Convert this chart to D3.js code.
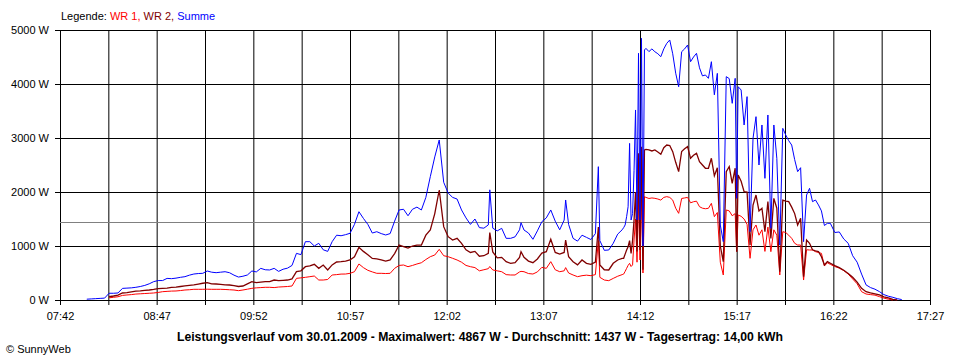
<!DOCTYPE html>
<html><head><meta charset="utf-8">
<script src="https://cdn.jsdelivr.net/npm/d3@7"></script>
<style>
body{margin:0;background:#fff;}
svg{display:block;font-family:"Liberation Sans",Arial,sans-serif;}
</style></head><body>
<svg id="c" width="960" height="360"></svg>
<script>
const times = [
"08:00","08:03","08:06","08:09","08:12","08:15","08:18","08:21","08:24","08:27",
"08:30","08:33","08:36","08:39","08:42","08:45","08:48","08:51","08:54","08:57",
"09:00","09:03","09:06","09:09","09:12","09:15","09:18","09:21","09:24","09:27",
"09:30","09:33","09:36","09:39","09:42","09:45","09:48","09:51","09:54","09:57",
"10:00","10:03","10:06","10:09","10:12","10:15","10:18","10:21","10:24","10:27",
"10:30","10:33","10:36","10:39","10:42","10:45","10:48","10:51","10:54","10:57",
"11:00","11:03","11:06","11:09","11:12","11:15","11:18","11:21","11:24","11:27",
"11:30","11:33","11:36","11:39","11:42","11:45","11:48","11:51","11:54","11:57",
"12:00","12:03","12:06","12:09","12:12","12:15","12:18","12:21","12:24","12:27",
"12:30","12:31","12:33","12:36","12:39","12:42","12:45","12:48","12:51","12:52",
"12:54","12:57","13:00","13:03","13:06","13:09","13:12","13:15","13:18","13:21",
"13:22","13:24","13:27","13:30","13:33","13:36","13:39","13:42","13:44","13:45",
"13:48","13:51","13:54","13:57","14:00","14:01","14:02","14:03","14:04","14:05",
"14:06","14:07","14:08","14:09","14:10","14:11","14:12","14:13","14:14","14:15",
"14:16","14:18","14:20","14:22","14:24","14:26","14:28","14:30","14:32","14:34",
"14:36","14:38","14:40","14:42","14:44","14:46","14:48","14:50","14:52","14:54",
"14:56","14:58","15:00","15:02","15:04","15:06","15:08","15:10","15:12","15:14",
"15:16","15:17","15:18","15:20","15:22","15:24","15:26","15:28","15:30","15:32",
"15:34","15:36","15:38","15:40","15:42","15:44","15:46","15:48","15:50","15:52",
"15:54","15:56","15:58","16:00","16:02","16:04","16:06","16:08","16:10","16:12",
"16:14","16:16","16:18","16:20","16:23","16:26","16:29","16:32","16:35","16:38",
"16:41","16:44","16:47","16:50","16:53","16:56","16:59","17:02","17:05","17:08"];

const summe = [
15,20,25,30,35,125,125,130,215,220,
225,235,250,270,300,340,360,360,400,395,
405,420,432,460,481,490,494,537,515,506,
515,524,505,460,425,440,463,537,520,586,
560,556,586,530,570,590,640,864,840,1080,
1080,1000,1050,930,900,1080,1200,1190,1210,1235,
1400,1635,1512,1400,1240,1265,1230,1204,1230,1460,
1667,1680,1560,1680,1720,1667,1900,2284,2650,2963,
2180,1980,1900,1870,1667,1520,1400,1500,1340,1330,
1390,2040,1330,1280,1327,1142,1142,1170,1300,1432,
1296,1240,1124,1280,1450,1520,1667,1460,1300,1480,
1852,1400,1142,1090,1200,1160,1120,1230,2469,1100,
920,926,1050,1220,1300,1340,1389,1543,1728,2900,
1481,1600,2400,3519,1481,4568,1481,4846,1000,4630,
4660,4600,4650,4598,4560,4506,4650,4753,4815,4560,
4200,3950,4598,4650,4722,4413,4500,4568,4300,4150,
4167,4105,4413,3800,4197,1389,1080,4136,4100,3642,
4105,1883,3950,3889,3241,3766,1265,2994,3395,2500,
3241,2253,3426,1327,3241,2624,1018,3179,3056,2950,
2870,2600,2377,2450,1080,1944,2068,1821,1852,1760,
1650,1380,1420,1420,1250,1260,1130,1050,820,700,
480,280,230,200,155,100,70,50,25,8];

const wr2 = [
null,null,null,null,null,60,74,90,130,135,
150,165,170,180,185,195,210,216,220,235,
240,250,260,270,280,295,310,320,300,296,
290,280,278,265,250,259,300,339,321,330,
339,340,370,358,365,370,390,524,540,617,
630,660,586,648,556,650,704,710,720,741,
800,975,900,840,770,760,741,720,741,860,
1018,987,960,1000,1018,1018,1200,1296,1600,2037,
1358,1173,1111,1142,1050,930,880,900,810,820,
864,1250,890,780,790,710,679,690,790,895,
790,720,691,760,870,895,1124,880,850,880,
1111,802,710,650,741,679,660,700,1350,650,
560,556,680,741,770,772,850,926,987,1100,
864,1100,1481,2000,900,2716,926,2840,560,2778,
2790,2780,2760,2778,2740,2700,2820,2870,2860,2747,
2550,2377,2750,2800,2840,2624,2680,2716,2561,2500,
2439,2439,2624,2300,2450,1000,710,2377,2469,2160,
2440,895,2315,2200,2006,2000,1018,1759,1944,1650,
1700,1265,1821,1142,1883,1700,524,1850,1830,1821,
1720,1600,1389,1512,432,1111,1050,930,910,895,
802,648,710,680,636,600,550,490,420,330,
216,154,130,115,93,60,40,13,0,null];

const wr1 = [
null,null,null,null,null,40,50,60,85,93,
100,110,115,120,125,130,140,154,160,165,
167,175,185,190,198,198,198,200,198,198,
198,195,190,185,173,185,200,216,225,230,
235,235,230,240,245,250,259,401,410,420,
432,444,370,370,380,463,470,480,481,494,
524,667,600,550,520,494,494,490,494,586,
640,648,617,640,667,690,750,802,833,938,
820,802,772,741,700,640,617,600,540,560,
580,620,556,540,524,470,463,463,520,530,
524,490,481,520,605,586,710,560,524,540,
600,500,463,432,450,460,450,470,1100,420,
370,358,400,440,470,480,530,586,640,679,
620,650,1111,1500,700,1900,741,1944,500,1913,
1900,1880,1890,1883,1870,1850,1900,1914,1900,1850,
1700,1605,1880,1890,1900,1800,1820,1830,1728,1700,
1690,1698,1790,1543,1620,700,463,1667,1650,1560,
1600,900,1574,1550,1500,1400,772,1300,1389,1200,
1300,900,1350,895,1300,1200,463,1265,1250,1200,
1142,1050,1018,1018,370,930,926,926,895,880,
864,630,690,660,620,590,545,480,390,300,
154,111,100,90,62,35,15,0,null,null];

const seriesNames = ["WR 1", "WR 2", "Summe"];
const yTicks = [0, 1000, 2000, 3000, 4000, 5000];
const xTickLabels = ["07:42","08:47","09:52","10:57","12:02","13:07","14:12","15:17","16:22","17:27"];
const average = 1437;
const legendTitle = "Legende: ";
const titleText = "Leistungsverlauf vom 30.01.2009 - Maximalwert: 4867 W - Durchschnitt: 1437 W - Tagesertrag: 14,00 kWh";
const creditText = "\u00A9 SunnyWeb";

const colors = {"WR 1": "#ff0000", "WR 2": "#800000", "Summe": "#0000ff"};
const widths = {"WR 1": 1, "WR 2": 1.3, "Summe": 1};

const parse = d3.timeParse("%H:%M");
const svg = d3.select("#c");
const pLeft = 60, pRight = 930, pTop = 30, pBottom = 300;

const labelDates = xTickLabels.map(parse);
const x = d3.scaleTime().domain([labelDates[0], labelDates[labelDates.length-1]]).range([pLeft, pRight]);
const y = d3.scaleLinear().domain([0, 5000]).range([pBottom, pTop]);

const gridDates = [];
labelDates.forEach((d, i) => {
  gridDates.push(d);
  if (i < labelDates.length - 1) gridDates.push(new Date((d.getTime() + labelDates[i+1].getTime()) / 2));
});
const labelSet = new Set(labelDates.map(d => d.getTime()));
const fontFam = "Liberation Sans, Arial, sans-serif";

// horizontal grid
svg.append("g").attr("transform", `translate(${pLeft},0)`)
  .call(d3.axisLeft(y).tickValues(yTicks).tickSize(-(pRight-pLeft)).tickFormat(""))
  .call(g => g.select(".domain").remove())
  .call(g => g.selectAll("line").attr("stroke", "#000"));
// vertical grid
svg.append("g").attr("transform", `translate(0,${pBottom})`)
  .call(d3.axisBottom(x).tickValues(gridDates).tickSize(-(pBottom-pTop)).tickFormat(""))
  .call(g => g.select(".domain").remove())
  .call(g => g.selectAll("line").attr("stroke", "#000"));

// y axis labels
svg.append("g").attr("transform", `translate(${pLeft},0)`)
  .call(d3.axisLeft(y).tickValues(yTicks).tickSize(5).tickPadding(6).tickFormat(d => d + " W"))
  .call(g => g.select(".domain").remove())
  .call(g => g.selectAll("line").attr("stroke", "#000"))
  .call(g => g.selectAll("text").attr("font-size", 11).attr("fill", "#000").attr("font-family", fontFam));
// x axis labels
svg.append("g").attr("transform", `translate(0,${pBottom})`)
  .call(d3.axisBottom(x).tickValues(gridDates).tickSize(5).tickPadding(7)
        .tickFormat(d => labelSet.has(d.getTime()) ? d3.timeFormat("%H:%M")(d) : ""))
  .call(g => g.select(".domain").remove())
  .call(g => g.selectAll("line").attr("stroke", "#000"))
  .call(g => g.selectAll("text").attr("font-size", 11).attr("fill", "#000").attr("font-family", fontFam));

// average line
const ya = Math.round(y(average)) + 0.5;
svg.append("line").attr("x1", pLeft).attr("x2", pRight).attr("y1", ya).attr("y2", ya)
  .attr("stroke", "#808080").attr("stroke-width", 1);

// series
const parsedTimes = times.map(parse);
const seriesData = {"WR 1": wr1, "WR 2": wr2, "Summe": summe};
const line = d3.line().defined(d => d[1] != null).x(d => x(d[0])).y(d => y(d[1]));
seriesNames.forEach(name => {
  const pts = parsedTimes.map((t, i) => [t, seriesData[name][i]]);
  svg.append("path").datum(pts).attr("d", line)
    .attr("fill", "none").attr("stroke", colors[name]).attr("stroke-width", widths[name])
    .attr("stroke-linejoin", "miter");
});

// legend
const leg = svg.append("text").attr("x", 61).attr("y", 20).attr("font-size", 11).attr("font-family", fontFam);
leg.append("tspan").text(legendTitle).attr("fill", "#000");
seriesNames.forEach((n, i) => {
  leg.append("tspan").text(n + (i < seriesNames.length - 1 ? ", " : "")).attr("fill", colors[n]);
});

// title
svg.append("text").attr("x", 480).attr("y", 341).attr("text-anchor", "middle").attr("font-family", fontFam)
  .attr("font-size", 12).attr("font-weight", "bold").attr("fill", "#000")
  .attr("textLength", 606).attr("lengthAdjust", "spacingAndGlyphs").text(titleText);
svg.append("text").attr("x", 6).attr("y", 353).attr("font-size", 11).attr("font-family", fontFam).attr("fill", "#000").text(creditText);
</script>
</body></html>
